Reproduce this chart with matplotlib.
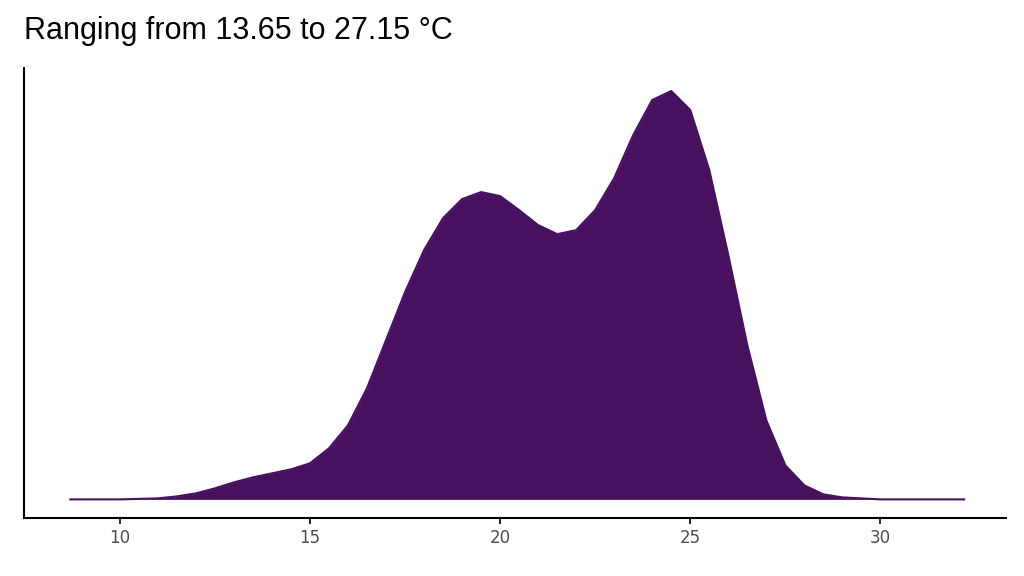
import numpy as np
import matplotlib.pyplot as plt

# temperature grid and density height (relative units)
temp = [8.7, 9.5, 10, 10.5, 11, 11.5, 12, 12.5, 13, 13.5, 14, 14.5, 15, 15.5, 16, 16.5,
        17, 17.5, 18, 18.5, 19, 19.5, 20, 20.5, 21, 21.5, 22, 22.5, 23, 23.5, 24, 24.5,
        25, 25.5, 26, 26.5, 27, 27.5, 28, 28.5, 29, 30, 31, 32.2]
dens = [0, 0, 0, 0.5, 1, 3, 6, 11, 17, 22, 26, 30, 36, 51, 74, 111,
        159, 207, 249, 281, 300, 307, 303, 289, 274, 265, 269, 289, 321, 364, 399, 408,
        389, 329, 244, 154, 79, 34, 14, 5, 2, 0, 0, 0]
title = "Ranging from 13.65 to 27.15 °C"
ticks = [10, 15, 20, 25, 30]

col = "#481160"
fig, ax = plt.subplots(figsize=(10.24, 5.76), dpi=100)
fig.subplots_adjust(left=0.023, right=0.982, bottom=0.1, top=0.882)
ax.fill_between(temp, dens, 0, color=col, lw=0)
ax.plot(temp, dens, color=col, lw=1.5)
ax.set_xlim(7.47, 33.29)
ax.set_ylim(-19, 431)
ax.set_xticks(ticks)
ax.set_yticks([])
ax.tick_params(axis="x", colors="#4d4d4d", labelsize=12, length=4, width=1.2)
ax.tick_params(axis="x", color="black")
for s in ["top", "right"]:
    ax.spines[s].set_visible(False)
for s in ["left", "bottom"]:
    ax.spines[s].set_linewidth(1.5)
fig.text(0.023, 0.92, title, fontsize=22, family="Liberation Sans", va="bottom")
fig.savefig("out.png")
